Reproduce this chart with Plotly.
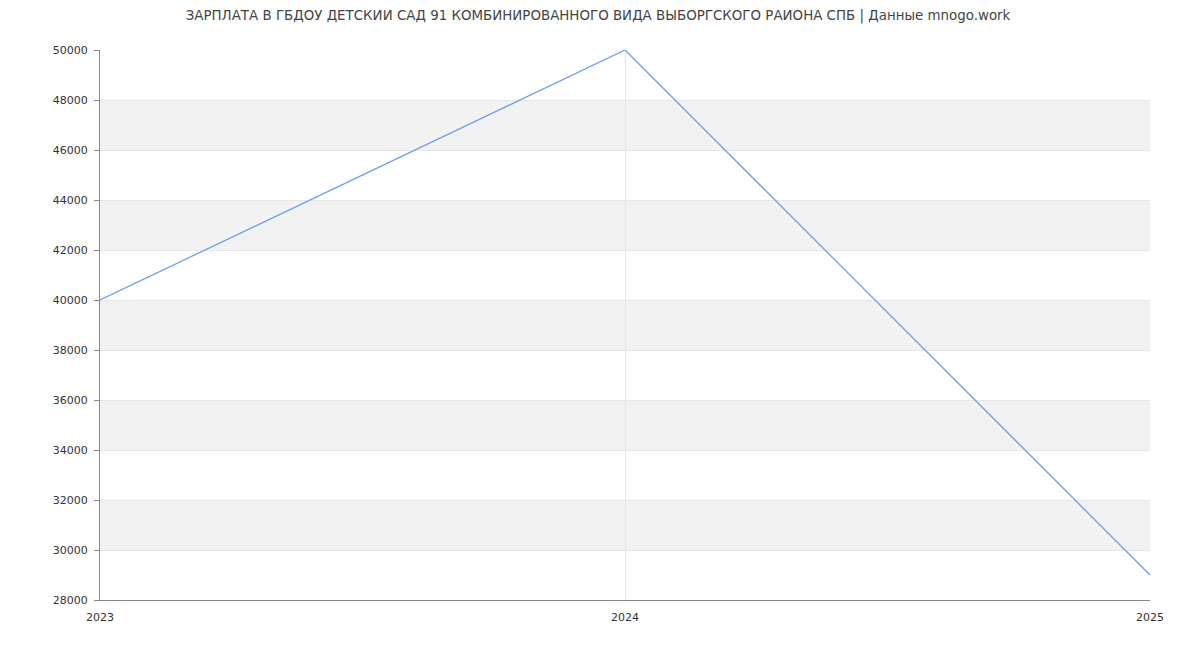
import plotly.graph_objects as go

years = [2023, 2024, 2025]
salary = [40000, 50000, 29000]
y_ticks = list(range(28000, 50001, 2000))
y_tick_labels = [str(v) for v in y_ticks]
band_starts = [30000, 34000, 38000, 42000, 46000]
band_height = 2000

title = "ЗАРПЛАТА В ГБДОУ ДЕТСКИЙ САД 91 КОМБИНИРОВАННОГО ВИДА ВЫБОРГСКОГО РАЙОНА СПБ | Данные mnogo.work"

fig = go.Figure()
fig.add_trace(go.Scatter(
    x=years, y=salary, mode="lines",
    line=dict(color="#6d9eeb", width=1.3),
    hoverinfo="x+y", showlegend=False,
))

shapes = []
for b in band_starts:
    shapes.append(dict(type="rect", xref="paper", yref="y", x0=0, x1=1,
                       y0=b, y1=b + band_height, fillcolor="#f2f2f2",
                       line=dict(width=0), layer="below"))

fig.update_layout(
    width=1192, height=642,
    margin=dict(l=92, r=50, t=42, b=50),
    paper_bgcolor="white", plot_bgcolor="white",
    font=dict(family="DejaVu Sans", size=11, color="#333"),
    title=dict(text=title, xref="container", x=0.495, xanchor="center",
               yref="container", y=0.989, yanchor="middle",
               font=dict(family="DejaVu Sans", size=13.4, color="#444")),
    shapes=shapes,
    xaxis=dict(range=[2023, 2025], tickvals=years, ticktext=[str(y) for y in years],
               showgrid=True, gridcolor="#e6e6e6", gridwidth=1,
               showline=True, linecolor="#888", linewidth=1,
               ticks="", ticklabelstandoff=7, zeroline=False,
               tickfont=dict(size=11, color="#333")),
    yaxis=dict(range=[28000, 50000], tickvals=y_ticks, ticktext=y_tick_labels,
               showgrid=True, gridcolor="#e6e6e6", gridwidth=1,
               showline=True, linecolor="#888", linewidth=1,
               ticks="outside", ticklen=5, tickcolor="#888",
               ticklabelstandoff=4, zeroline=False,
               tickfont=dict(size=11, color="#333")),
)

fig.write_html("out.html")
